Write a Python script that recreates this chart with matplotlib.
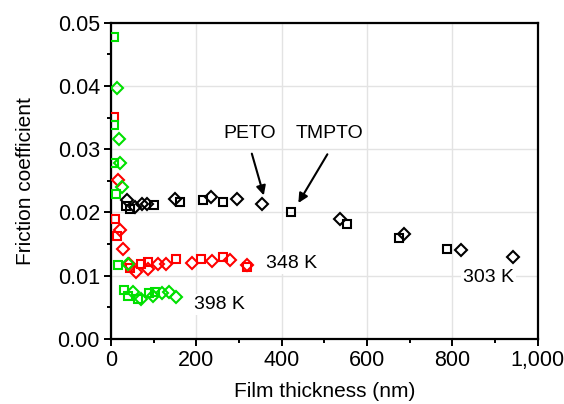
import matplotlib
matplotlib.use('Agg')
import matplotlib.pyplot as plt
from matplotlib.ticker import MultipleLocator, FuncFormatter

plt.rcParams['font.family'] = ['Liberation Sans', 'DejaVu Sans']

# 303 K (black): TMPTO squares, PETO diamonds
k303_sq_x = [34, 45, 101, 162, 216, 262, 421, 554, 675, 788]
k303_sq_y = [0.0211, 0.0206, 0.0212, 0.0217, 0.0220, 0.0217, 0.0200, 0.0182, 0.0159, 0.0142]
k303_di_x = [37, 56, 72, 84, 150, 234, 295, 353, 537, 687, 819, 941]
k303_di_y = [0.0220, 0.0209, 0.0213, 0.0214, 0.0222, 0.0224, 0.0221, 0.0214, 0.0189, 0.0166, 0.0141, 0.0130]

# 348 K (red)
k348_sq_x = [8, 9, 13, 45, 70, 87, 152, 210, 263, 318]
k348_sq_y = [0.0351, 0.0190, 0.0163, 0.0112, 0.0118, 0.0122, 0.0126, 0.0126, 0.0129, 0.0114]
k348_di_x = [17, 21, 29, 42, 58, 86, 109, 130, 189, 237, 279, 318]
k348_di_y = [0.0252, 0.0172, 0.0143, 0.0118, 0.0106, 0.0110, 0.0118, 0.0118, 0.0120, 0.0124, 0.0125, 0.0117]

# 398 K (green)
k398_sq_x = [7, 8, 8, 11, 17, 31, 41, 64, 88, 103]
k398_sq_y = [0.0478, 0.0338, 0.0278, 0.0230, 0.0117, 0.0078, 0.0068, 0.0064, 0.0072, 0.0075]
k398_di_x = [13, 19, 21, 25, 39, 52, 70, 98, 119, 136, 152]
k398_di_y = [0.0396, 0.0316, 0.0278, 0.0241, 0.0118, 0.0075, 0.0063, 0.0068, 0.0072, 0.0075, 0.0067]

fig = plt.figure(figsize=(5.64, 4.04), dpi=100)
ax = fig.add_axes([0.1968, 0.1609, 0.7567, 0.7829])

ax.grid(True, which='major', color='#e3e3e3', linewidth=1.0, zorder=0)
ax.set_axisbelow(True)

mk = dict(linestyle='none', markerfacecolor='none', markeredgewidth=1.5, zorder=3)
ax.plot(k303_sq_x, k303_sq_y, 's', color='black', markersize=5.8, **mk)
ax.plot(k303_di_x, k303_di_y, 'D', color='black', markersize=5.8, **mk)
ax.plot(k348_sq_x, k348_sq_y, 's', color='#ff0000', markersize=5.8, **mk)
ax.plot(k348_di_x, k348_di_y, 'D', color='#ff0000', markersize=5.8, **mk)
ax.plot(k398_sq_x, k398_sq_y, 's', color='#00e000', markersize=5.8, **mk)
ax.plot(k398_di_x, k398_di_y, 'D', color='#00e000', markersize=5.8, **mk)

box = dict(facecolor='white', edgecolor='none', pad=1.5)
ax.text(363, 0.0120, '348 K', fontsize=14, va='center', ha='left', bbox=box, zorder=4)
ax.text(194, 0.0054, '398 K', fontsize=14, va='center', ha='left', bbox=box, zorder=4)
ax.text(825, 0.0098, '303 K', fontsize=14, va='center', ha='left', bbox=box, zorder=4)

arrow = dict(arrowstyle='-|>', color='black', lw=1.5, mutation_scale=14, shrinkA=0, shrinkB=0)
ax.text(326, 0.0325, 'PETO', fontsize=14, ha='center', va='center', zorder=4)
ax.annotate('', xy=(358, 0.0227), xytext=(330, 0.0293), arrowprops=arrow)
ax.text(513, 0.0325, 'TMPTO', fontsize=14, ha='center', va='center', zorder=4)
ax.annotate('', xy=(439, 0.0215), xytext=(507, 0.0292), arrowprops=arrow)

ax.set_xlim(0, 1000)
ax.set_ylim(0, 0.05)
ax.xaxis.set_major_locator(MultipleLocator(200))
ax.xaxis.set_minor_locator(MultipleLocator(100))
ax.yaxis.set_major_locator(MultipleLocator(0.01))
ax.yaxis.set_minor_locator(MultipleLocator(0.005))
ax.xaxis.set_major_formatter(FuncFormatter(lambda v, p: f'{v:,.0f}'))
ax.yaxis.set_major_formatter(FuncFormatter(lambda v, p: f'{v:.2f}'))

for s in ax.spines.values():
    s.set_linewidth(1.6)
ax.tick_params(which='major', direction='out', length=5, width=1.4, labelsize=15.5, pad=3)
ax.tick_params(which='minor', direction='out', length=3, width=1.4)
ax.tick_params(top=False, right=False)

ax.set_xlabel('Film thickness (nm)', fontsize=15, labelpad=8)
ax.set_ylabel('Friction coefficient', fontsize=15, labelpad=16)

fig.savefig('out.png', dpi=100)
